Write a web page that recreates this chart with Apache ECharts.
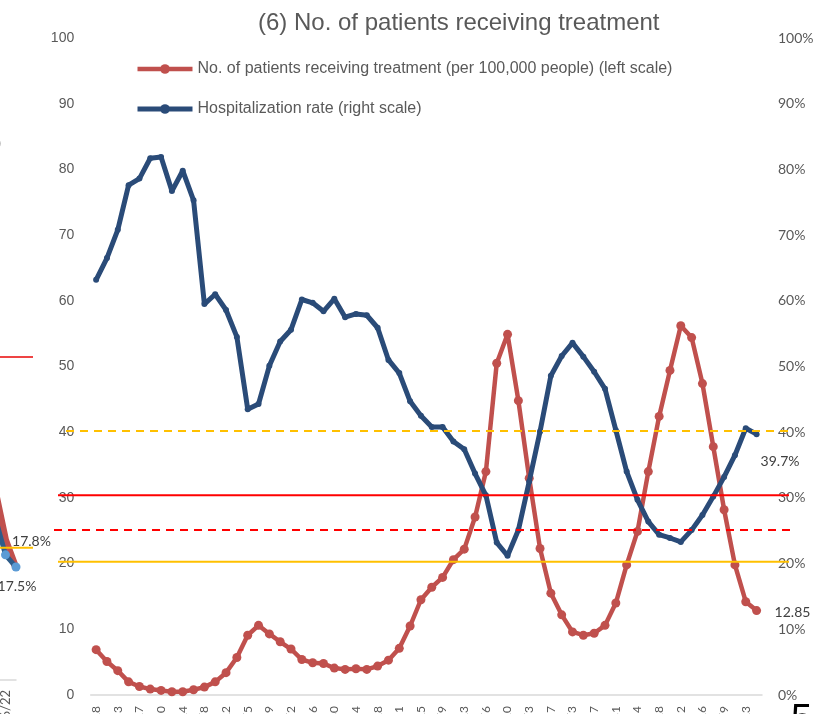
<!DOCTYPE html>
<html lang="en">
<head>
    <meta charset="UTF-8">
    <title>No. of patients receiving treatment</title>
    <script src="https://cdn.jsdelivr.net/npm/echarts@6/dist/echarts.min.js"></script>
    <style>
        html, body { margin: 0; padding: 0; background: #fff; }
        #main { width: 833px; height: 714px; }
    </style>
</head>
<body>
<div id="main"></div>
<script type="text/javascript">
    // weekly dates (axis labels are cut off at the bottom of the picture)
    let dates = [
        '2020/4/28', '2020/5/6', '2020/5/13', '2020/5/20', '2020/5/27', '2020/6/3', '2020/6/10', '2020/6/17',
        '2020/6/24', '2020/7/1', '2020/7/8', '2020/7/15', '2020/7/22', '2020/7/29', '2020/8/5', '2020/8/12',
        '2020/8/19', '2020/8/26', '2020/9/2', '2020/9/9', '2020/9/16', '2020/9/23', '2020/9/30', '2020/10/7',
        '2020/10/14', '2020/10/21', '2020/10/28', '2020/11/4', '2020/11/11', '2020/11/18', '2020/11/25', '2020/12/2',
        '2020/12/9', '2020/12/16', '2020/12/23', '2020/12/30', '2021/1/6', '2021/1/13', '2021/1/20', '2021/1/27',
        '2021/2/3', '2021/2/10', '2021/2/17', '2021/2/24', '2021/3/3', '2021/3/10', '2021/3/17', '2021/3/24',
        '2021/3/31', '2021/4/7', '2021/4/14', '2021/4/21', '2021/4/28', '2021/5/5', '2021/5/12', '2021/5/19',
        '2021/5/26', '2021/6/2', '2021/6/9', '2021/6/16', '2021/6/23', '2021/6/30'
    ];
    // patients receiving treatment per 100,000 people (left scale)
    let patients = [
        6.9, 5.1, 3.7, 2.0, 1.3, 0.9, 0.7, 0.5, 0.5, 0.8, 1.2, 2.0, 3.4, 5.7, 9.1, 10.6,
        9.3, 8.1, 7.0, 5.4, 4.9, 4.8, 4.1, 3.9, 4.0, 3.9, 4.4, 5.3, 7.1, 10.5, 14.5, 16.4,
        17.9, 20.6, 22.2, 27.1, 34.0, 50.5, 54.9, 44.8, 33.0, 22.3, 15.5, 12.2, 9.6, 9.1,
        9.4, 10.6, 14.0, 19.8, 24.9, 34.0, 42.4, 49.4, 56.2, 54.4, 47.4, 37.8, 28.2, 19.8,
        14.2, 12.85
    ];
    // hospitalization rate in % (right scale)
    let hospRate = [
        63.2, 66.5, 70.8, 77.6, 78.6, 81.7, 81.9, 76.7, 79.8, 75.3, 59.5, 61.0, 58.6, 54.5, 43.5, 44.3,
        50.1, 53.8, 55.6, 60.2, 59.7, 58.4, 60.3, 57.5, 58.0, 57.8, 55.9, 51.0, 49.0, 44.7, 42.5, 40.8,
        40.8, 38.6, 37.4, 33.7, 30.4, 23.2, 21.2, 25.1, 32.5, 40.1, 48.6, 51.6, 53.6, 51.5, 49.2, 46.6,
        40.3, 34.0, 29.7, 26.4, 24.4, 23.9, 23.3, 25.1, 27.4, 30.2, 33.2, 36.5, 40.6, 39.7
    ];
    let leftTicks = [0, 100, 10];   // min, max, interval
    // stage lines drawn over the chart
    let patientLines = [{value: 30.4, color: '#FF0000', dash: 'solid'}, {value: 20.3, color: '#FFC000', dash: 'solid'}];
    let rateLines = [{value: 40.2, color: '#FFC000', dash: [8, 6]}, {value: 25.1, color: '#FF0000', dash: [8, 6]}];

    // piece of the neighbouring chart on the slide (left edge)
    let fragDates = ['2021/6/8', '2021/6/15', '2021/6/22', '2021/6/29'];
    let fragRed = [37.4, 29.6, 21.8, 17.4];
    let fragBlue = [31.0, 25.4, 19.5, 17.6];
    let fragLabels = ['', '', '17.8%', '17.5%'];
    let fragLines = [{value: 50.3, color: '#EE4444'}, {value: 20.6, color: '#FFC000'}];

    let nameRed = 'No. of patients receiving treatment (per 100,000 people) (left scale)';
    let nameBlue = 'Hospitalization rate (right scale)';
    let grey = '#595959';

    let myChart = echarts.init(document.getElementById('main'));
    let option = {
        animation: false,
        title: {
            text: '(6) No. of patients receiving treatment',
            left: 253,
            top: 6,
            textStyle: {fontSize: 24, fontWeight: 'normal', color: grey, fontFamily: 'Liberation Sans'}
        },
        legend: {
            data: [nameRed, nameBlue],
            orient: 'vertical',
            left: 130,
            top: 56,
            itemWidth: 55,
            itemHeight: 12,
            itemGap: 24,
            lineStyle: {width: 'inherit'},
            textStyle: {fontSize: 16, color: grey, fontFamily: 'Liberation Sans'}
        },
        grid: [
            {left: 90.7, right: 71, top: 38, bottom: 19, containLabel: false, outerBoundsMode: 'none'},
            {left: -15.5, width: 31.5, top: 38, bottom: 34, containLabel: false, outerBoundsMode: 'none'}
        ],
        xAxis: [
            {
                type: 'category',
                data: dates,
                gridIndex: 0,
                axisLine: {lineStyle: {color: '#D9D9D9', width: 1.5}},
                axisTick: {show: false},
                axisLabel: {rotate: 90, interval: 1, margin: 11, fontSize: 12, color: grey, fontFamily: 'Lato'}
            },
            {
                type: 'category',
                data: fragDates,
                gridIndex: 1,
                boundaryGap: false,
                axisLine: {lineStyle: {color: '#D9D9D9', width: 1.5}},
                axisTick: {show: false},
                axisLabel: {rotate: 90, interval: 1, margin: 10, fontSize: 13, color: grey, fontFamily: 'Lato'}
            }
        ],
        yAxis: [
            {
                type: 'value',
                min: leftTicks[0], max: leftTicks[1], interval: leftTicks[2],
                gridIndex: 0,
                splitLine: {show: false},
                axisLine: {show: false},
                axisTick: {show: false},
                axisLabel: {margin: 16.5, fontSize: 14, color: grey, fontFamily: 'Liberation Sans'}
            },
            {
                type: 'value',
                min: leftTicks[0], max: leftTicks[1], interval: leftTicks[2],
                gridIndex: 0,
                position: 'right',
                splitLine: {show: false},
                axisLine: {show: false},
                axisTick: {show: false},
                axisLabel: {margin: 16, fontSize: 14, color: grey, fontFamily: 'Lato', formatter: '{value}%'}
            },
            {
                type: 'value', min: 0, max: 100, gridIndex: 1, show: false
            }
        ],
        series: [
            {
                name: nameRed,
                type: 'line',
                data: patients,
                xAxisIndex: 0, yAxisIndex: 0,
                symbol: 'circle',
                symbolSize: 9,
                showAllSymbol: true,
                itemStyle: {color: '#C0504D'},
                lineStyle: {color: '#C0504D', width: 4.5},
                endLabel: {
                    show: true,
                    distance: 18,
                    offset: [0, 2],
                    fontSize: 14,
                    color: '#404040',
                    fontFamily: 'Lato',
                    formatter: (p) => String(p.value)
                },
                z: 2
            },
            {
                name: nameBlue,
                type: 'line',
                data: hospRate,
                xAxisIndex: 0, yAxisIndex: 1,
                symbol: 'circle',
                symbolSize: 6,
                showAllSymbol: true,
                itemStyle: {color: '#2A4B78'},
                lineStyle: {color: '#2A4B78', width: 5},
                endLabel: {
                    show: true,
                    distance: 4,
                    offset: [0, 27],
                    fontSize: 14,
                    color: '#404040',
                    fontFamily: 'Lato',
                    formatter: (p) => p.value + '%'
                },
                z: 3
            },
            {
                name: 'frag red',
                type: 'line',
                data: fragRed,
                xAxisIndex: 1, yAxisIndex: 2,
                symbol: 'none',
                lineStyle: {color: '#C0504D', width: 7},
                z: 2
            },
            {
                name: 'frag blue',
                type: 'line',
                data: fragBlue,
                xAxisIndex: 1, yAxisIndex: 2,
                symbol: 'circle',
                symbolSize: 9,
                showAllSymbol: true,
                itemStyle: {color: '#5B9BD5'},
                lineStyle: {color: '#2E5C8A', width: 5},
                label: {
                    show: true,
                    fontSize: 14,
                    color: '#404040',
                    fontFamily: 'Lato',
                    formatter: (p) => fragLabels[p.dataIndex]
                },
                labelLayout: (params) => params.dataIndex === 2
                    ? {dx: 26, dy: 3}
                    : {dx: 1, dy: 36},
                z: 3
            }
        ]
    };
    myChart.setOption(option);

    // stage lines: y from the axes, drawn across the slide on top
    function hLine(y, x1, x2, color, dash) {
        return {
            type: 'line',
            z: 100,
            shape: {x1: x1, y1: y, x2: x2, y2: y},
            style: {stroke: color, lineWidth: 2, lineDash: dash}
        };
    }
    let graphics = [];
    for (let l of patientLines) {
        let y = myChart.convertToPixel({yAxisIndex: 0}, l.value);
        graphics.push(hLine(y, 58, 789, l.color, l.dash));
    }
    for (let l of rateLines) {
        let y = myChart.convertToPixel({yAxisIndex: 1}, l.value);
        graphics.push(hLine(y, l.color === '#FFC000' ? 66 : 54, 790, l.color, l.dash));
    }
    for (let l of fragLines) {
        let y = myChart.convertToPixel({yAxisIndex: 2}, l.value);
        graphics.push(hLine(y, 0, 33, l.color, 'solid'));
    }
    graphics.push({
        type: 'text', left: -4, top: 136, z: 100,
        style: {text: ')', fontSize: 16, fill: grey, fontFamily: 'Liberation Sans'}
    });
    graphics.push({
        type: 'text', left: 791, top: 702, z: 100,
        style: {text: '5', fontSize: 38, fill: '#000', fontFamily: 'Liberation Sans'}
    });
    myChart.setOption({graphic: graphics});
</script>
</body>
</html>
